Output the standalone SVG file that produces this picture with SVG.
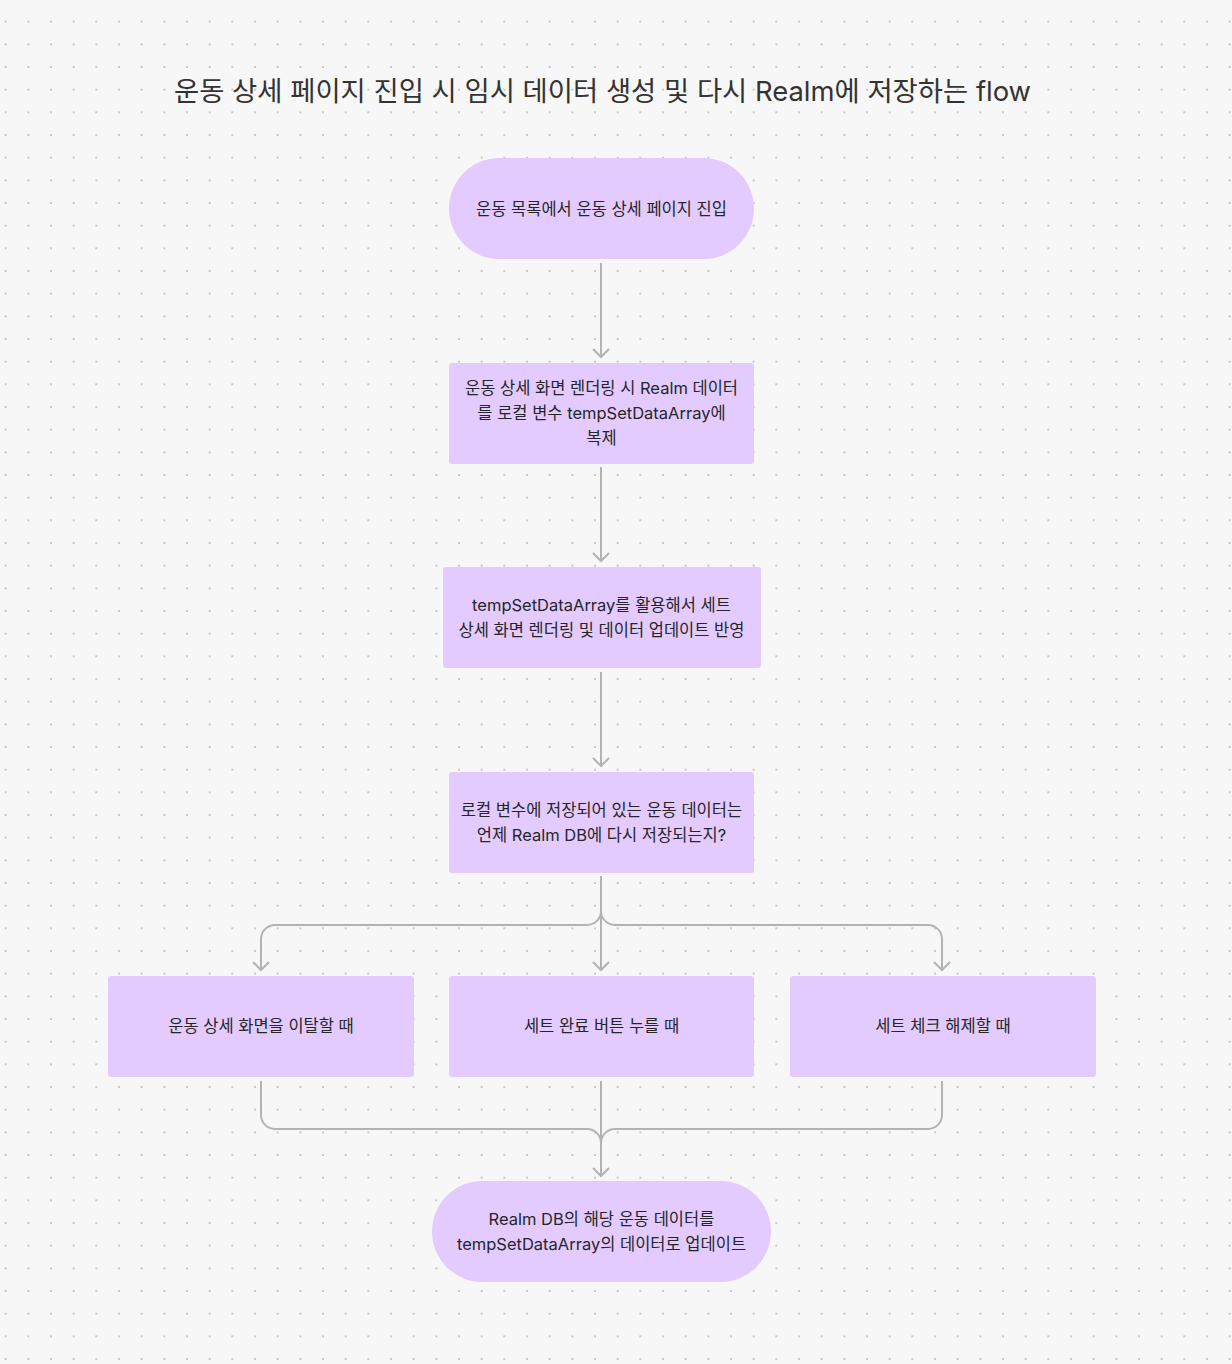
<svg xmlns="http://www.w3.org/2000/svg" width="1232" height="1364" viewBox="0 0 1232 1364">
<style>
.node{fill:#E3CBFF;}
.t{font-family:Inter,"Noto Sans CJK KR",sans-serif;font-size:16.5px;fill:#262626;text-anchor:middle;}
.title{font-family:Inter,"Noto Sans CJK KR",sans-serif;font-size:27.4px;fill:#333333;}
.c{fill:none;stroke:#B3B3B3;stroke-width:2;}
</style>
<defs>
<pattern id="dots" x="5.67" y="-1" width="22.667" height="22.667" patternUnits="userSpaceOnUse">
<circle cx="0" cy="0" r="1.1" fill="#BEBEBE"/>
<circle cx="22.667" cy="0" r="1.1" fill="#BEBEBE"/>
<circle cx="0" cy="22.667" r="1.1" fill="#BEBEBE"/>
<circle cx="22.667" cy="22.667" r="1.1" fill="#BEBEBE"/>
</pattern>
<marker id="arrow" viewBox="-10 -10 12 20" refX="0" refY="0" markerWidth="12" markerHeight="20" markerUnits="userSpaceOnUse" orient="auto">
<path d="M-8,-8 L0,0 L-8,8" fill="none" stroke="#B3B3B3" stroke-width="2"/>
</marker>
</defs>
<rect width="1232" height="1364" fill="#F7F7F7"/>
<rect width="1232" height="1364" fill="url(#dots)"/>
<text class="title" x="174" y="101">운동 상세 페이지 진입 시 임시 데이터 생성 및 다시 Realm에 저장하는 flow</text>
<g id="connectors">
<path class="c" d="M601,263 V357" marker-end="url(#arrow)"/>
<path class="c" d="M601,467 V561" marker-end="url(#arrow)"/>
<path class="c" d="M601,672 V766" marker-end="url(#arrow)"/>
<path class="c" d="M601,876 V970" marker-end="url(#arrow)"/>
<path class="c" d="M601,876 V911 A14,14 0 0 1 587,925 H275 A14,14 0 0 0 261,939 V970" marker-end="url(#arrow)"/>
<path class="c" d="M601,876 V911 A14,14 0 0 0 615,925 H928 A14,14 0 0 1 942,939 V970" marker-end="url(#arrow)"/>
<path class="c" d="M261,1081 V1115 A14,14 0 0 0 275,1129 H587 A14,14 0 0 1 601,1143 V1176"/>
<path class="c" d="M942,1081 V1115 A14,14 0 0 1 928,1129 H615 A14,14 0 0 0 601,1143 V1176"/>
<path class="c" d="M601,1081 V1176" marker-end="url(#arrow)"/>
</g>
<g id="n1">
<rect class="node" x="449" y="158" width="305" height="101" rx="50.5"/>
<text class="t" x="601.5" y="215">운동 목록에서 운동 상세 페이지 진입</text>
</g>
<g id="n2">
<rect class="node" x="449" y="363" width="305" height="101" rx="3"/>
<text class="t" x="601.5" y="394">운동 상세 화면 렌더링 시 Realm 데이터</text>
<text class="t" x="601.5" y="419">를 로컬 변수 tempSetDataArray에</text>
<text class="t" x="601.5" y="444">복제</text>
</g>
<g id="n3">
<rect class="node" x="443" y="567" width="318" height="101" rx="3"/>
<text class="t" x="601.5" y="611">tempSetDataArray를 활용해서 세트</text>
<text class="t" x="601.5" y="636">상세 화면 렌더링 및 데이터 업데이트 반영</text>
</g>
<g id="n4">
<rect class="node" x="449" y="772" width="305" height="101" rx="3"/>
<text class="t" x="601.5" y="816">로컬 변수에 저장되어 있는 운동 데이터는</text>
<text class="t" x="601.5" y="841">언제 Realm DB에 다시 저장되는지?</text>
</g>
<g id="n5">
<rect class="node" x="108" y="976" width="306" height="101" rx="3"/>
<text class="t" x="261" y="1032">운동 상세 화면을 이탈할 때</text>
</g>
<g id="n6">
<rect class="node" x="449" y="976" width="305" height="101" rx="3"/>
<text class="t" x="601.5" y="1032">세트 완료 버튼 누를 때</text>
</g>
<g id="n7">
<rect class="node" x="790" y="976" width="306" height="101" rx="3"/>
<text class="t" x="943" y="1032">세트 체크 해제할 때</text>
</g>
<g id="n8">
<rect class="node" x="432" y="1181" width="339" height="101" rx="50.5"/>
<text class="t" x="601.5" y="1225">Realm DB의 해당 운동 데이터를</text>
<text class="t" x="601.5" y="1250">tempSetDataArray의 데이터로 업데이트</text>
</g>
</svg>
